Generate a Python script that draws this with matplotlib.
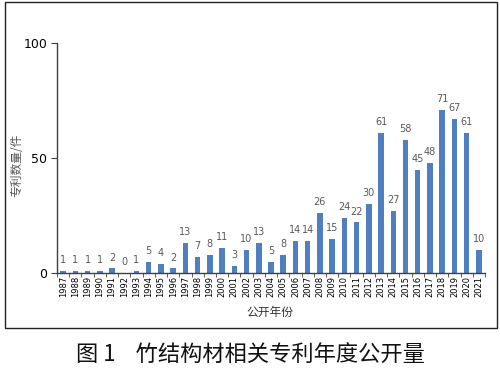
import matplotlib
matplotlib.use("Agg")
import matplotlib.pyplot as plt
from matplotlib.patches import Rectangle

plt.rcParams['font.family'] = ['Noto Sans CJK SC', 'DejaVu Sans']

years = [str(y) for y in range(1987, 2022)]
counts = [1, 1, 1, 1, 2, 0, 1, 5, 4, 2, 13, 7, 8, 11, 3, 10, 13, 5, 8, 14, 14,
          26, 15, 24, 22, 30, 61, 27, 58, 45, 48, 71, 67, 61, 10]
yticks = [0, 50, 100]

fig = plt.figure(figsize=(5, 3.74), dpi=100)
ax = fig.add_axes([0.114, 0.270, 0.856, 0.615])

x = list(range(len(years)))
ax.bar(x, counts, width=0.45, color='#4F7EC1')
for xi, v in zip(x, counts):
    ax.text(xi, v + 2.5, str(v), ha='center', va='bottom', fontsize=7,
            color='#595959', family='DejaVu Sans')

ax.set_xlim(-0.5, len(years) - 0.5)
ax.set_ylim(0, 100)
ax.set_yticks(yticks)
ax.set_yticklabels([str(t) for t in yticks], fontsize=9, family='DejaVu Sans')
ax.set_xticks(x)
ax.set_xticklabels(years, rotation=90, fontsize=6, family='DejaVu Sans')
ax.set_xticks([i - 0.5 for i in range(len(years) + 1)], minor=True)
ax.tick_params(axis='x', which='major', length=0, pad=2)
ax.tick_params(axis='x', which='minor', length=3, color='#404040', direction='out')
ax.tick_params(axis='y', length=4, color='#404040', direction='out', pad=3)

for s in ['top', 'right']:
    ax.spines[s].set_visible(False)
ax.spines['left'].set_color('#404040')
ax.spines['bottom'].set_color('#404040')
ax.spines['left'].set_linewidth(1.0)
ax.spines['bottom'].set_linewidth(1.0)

ax.set_ylabel('专利数量/件', fontsize=8.5, color='#555555')
ax.yaxis.set_label_coords(-0.078, 0.47)
fig.text(0.54, 0.165, '公开年份', fontsize=8.5, color='#333333', ha='center', va='center')

fig.patches.append(Rectangle((0.010, 0.123), 0.984, 0.872, transform=fig.transFigure,
                             fill=False, edgecolor='#222222', linewidth=1.0))

fig.text(0.5, 0.05, '图 1    竹结构材相关专利年度公开量', fontsize=16, color='#111111',
         ha='center', va='center', fontweight='light')

fig.savefig('out.png', dpi=100)
